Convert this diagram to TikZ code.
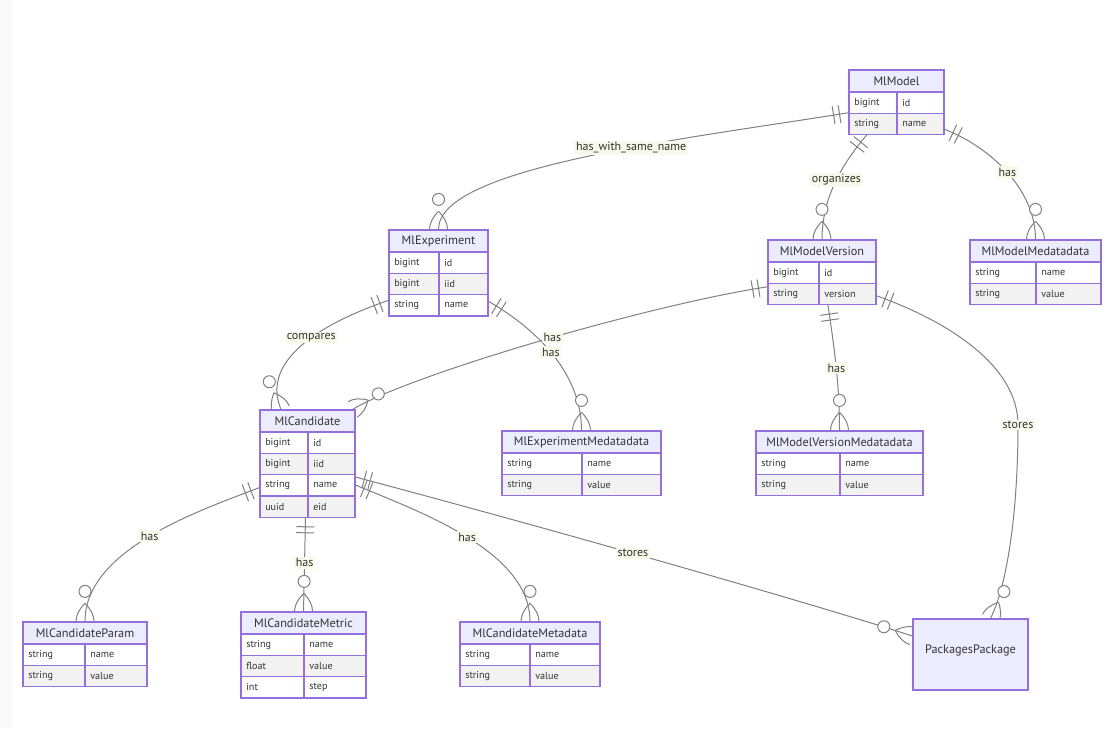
\documentclass[tikz,border=0pt]{standalone}
\usepackage{fontspec}
\setsansfont{PT Sans}
\usetikzlibrary{calc, fit, backgrounds, decorations.markings}
\definecolor{erpurple}{HTML}{9370DB}
\definecolor{headfill}{HTML}{ECECFF}
\definecolor{rowgrey}{HTML}{F2F2F2}
\definecolor{linegrey}{HTML}{808080}
\definecolor{labelbg}{HTML}{F6FBE9}
\definecolor{ink}{HTML}{333333}
\definecolor{edgestrip}{HTML}{F9F9F9}
\tikzset{
  every picture/.style={font=\sffamily},
  cell/.style={draw=erpurple, line width=0.9pt},
  entity/.style={draw=erpurple, line width=0.9pt, inner sep=0pt},
  etitle/.style={font=\sffamily\fontsize{9.2}{11}\selectfont, text=ink},
  attr/.style={font=\sffamily\fontsize{7.6}{9}\selectfont, text=ink, anchor=west, inner sep=0pt},
  elabel/.style={font=\sffamily\fontsize{9}{11}\selectfont, text=ink, fill=labelbg, inner sep=1.2pt},
  foot/.style={draw=linegrey, line width=0.75pt},
  erline/.style={draw=linegrey, line width=0.75pt, postaction={decorate},
    decoration={markings,
      mark=at position 6.75pt with {\draw[foot] (0,-9) -- (0,9);},
      mark=at position 11.25pt with {\draw[foot] (0,-9) -- (0,9);},
      mark=at position 0.9999 with {
        \draw[foot] (-18,0) .. controls (-12,6) and (-6,9) .. (0,9);
        \draw[foot] (-18,0) .. controls (-12,-6) and (-6,-9) .. (0,-9);
        \filldraw[foot, fill=white] (-30,0) circle[radius=4.5pt];}}},
}
% entity table: name, title, left, top, right, column split, rows
\newcommand{\erentity}[7]{%
  \fill[headfill] (#3,#4) rectangle (#5,#4+22);
  \foreach \atype/\aname [count=\i] in {#7} {
    \pgfmathsetmacro{\rtop}{#4+22+(\i-1)*21.3}
    \ifodd\i\relax\def\rowfill{white}\else\def\rowfill{rowgrey}\fi
    \draw[cell, fill=\rowfill] (#3,\rtop) rectangle (#6,\rtop+21.3);
    \draw[cell, fill=\rowfill] (#6,\rtop) rectangle (#5,\rtop+21.3);
    \node[attr] (#1-type\i) at (#3+5,\rtop+10.65) {\atype};
    \node[attr] (#1-name\i) at (#6+5,\rtop+10.65) {\aname};
    \xdef\rowcount{\i}
  }
  \node[entity, fit={(#3,#4) (#5,#4+22+\rowcount*21.3)}] (#1) {};
  \node[etitle] (#1-title) at ({(#3+#5)/2},#4+11) {#2};
}

\begin{document}
\begin{tikzpicture}[x=0.75pt, y=-0.75pt]
  \useasboundingbox (0,0) rectangle (1120,728);
  \fill[edgestrip] (0,0) rectangle (12,728);

  \erentity{model}{MlModel}{849}{70}{944}{897}{bigint/id, string/name}
  \erentity{exp}{MlExperiment}{389}{230}{488}{439}{bigint/id, bigint/iid, string/name}
  \erentity{mv}{MlModelVersion}{768}{240}{876}{819}{bigint/id, string/version}
  \erentity{modelmeta}{MlModelMedatadata}{970}{240}{1101}{1036}{string/name, string/value}
  \erentity{cand}{MlCandidate}{260}{410}{355}{308}{bigint/id, bigint/iid, string/name, uuid/eid}
  \erentity{expmeta}{MlExperimentMedatadata}{502}{431}{661}{582}{string/name, string/value}
  \erentity{mvmeta}{MlModelVersionMedatadata}{756}{431}{923}{840}{string/name, string/value}
  \erentity{param}{MlCandidateParam}{23}{622}{147}{85}{string/name, string/value}
  \erentity{metric}{MlCandidateMetric}{241}{612}{366}{304}{string/name, float/value, int/step}
  \erentity{candmeta}{MlCandidateMetadata}{460}{622}{600}{530}{string/name, string/value}
  \node[entity, fill=headfill, fit={(913,619) (1028,690)}, etitle] (pkg) {PackagesPackage};

  \begin{scope}[on background layer]
    \draw[erline] ($(model.west)+(0,10.5)$) .. controls +(-169,27) and +(0,-62) .. (exp.north)
      node[elabel, pos=0.4] {has\_with\_same\_name};
    \draw[erline] ($(model.south)+(-30,0)$) .. controls +(-21,25) and +(0,-45) .. (mv.north)
      node[elabel, pos=0.5] {organizes};
    \draw[erline] ($(model.east)+(0,27)$) .. controls +(46,18) and +(0,-50) .. (modelmeta.north)
      node[elabel, pos=0.5] {has};
    \draw[erline] ($(exp.west)+(0,27.5)$) .. controls +(-59,20) and +(-22,-52) .. ($(cand.north)+(-26.5,0)$)
      node[elabel, pos=0.45] {compares};
    \draw[erline] ($(exp.east)+(0,28.5)$) .. controls +(42,24) and +(0,-61) .. (expmeta.north)
      node[elabel, pos=0.5] {has};
    \draw[erline] ($(mv.west)+(0,14.5)$) .. controls +(-118,18) and +(58,-35) .. ($(cand.north east)+(-3,0)$)
      node[elabel, pos=0.47] {has};
    \draw[erline] ($(mv.south)+(6,0)$) .. controls +(5,35) and +(0,-51) .. (mvmeta.north)
      node[elabel, pos=0.55] {has};
    \draw[erline] ($(mv.east)+(0,23.5)$) .. controls +(70,25) and +(0,-60) .. (1018,425) node[elabel] {stores}
      .. controls +(0,80) and +(18,-36) .. ($(pkg.north)+(20,0)$);
    \draw[erline] ($(cand.west)+(0,24)$) .. controls +(-60,23) and +(0,-72) .. (param.north)
      node[elabel, pos=0.5] {has};
    \draw[erline] ($(cand.south)+(-2,0)$) -- (metric.north)
      node[elabel, pos=0.48] {has};
    \draw[erline] ($(cand.east)+(0,21.5)$) .. controls +(65,27) and +(0,-70) .. (candmeta.north)
      node[elabel, pos=0.5] {has};
    \draw[erline] ($(cand.east)+(0,13.5)$) .. controls +(185,49) and +(-105,-34) .. ($(pkg.west)+(0,-18.5)$)
      node[elabel, pos=0.45] {stores};
  \end{scope}
\end{tikzpicture}
\end{document}
